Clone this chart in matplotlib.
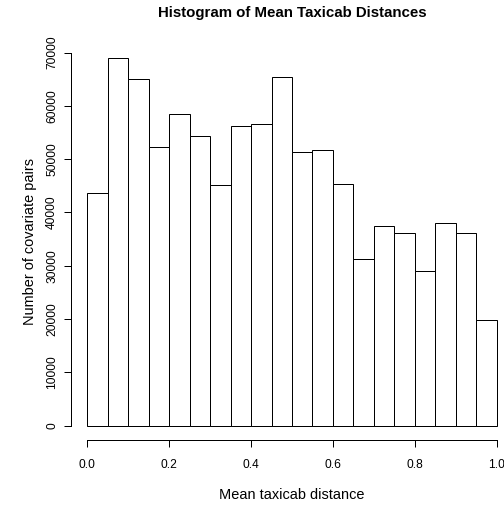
import numpy as np
import matplotlib
matplotlib.use('Agg')
import matplotlib.pyplot as plt

# bin edges and counts
bin_edges = np.round(np.arange(0, 1.0001, 0.05), 2)
counts = [43750, 68940, 65100, 52320, 58410, 54330, 45120, 56210, 56650, 65370,
          51270, 51700, 45370, 31270, 37410, 36100, 29080, 38040, 36160, 19900]
xticks = [0.0, 0.2, 0.4, 0.6, 0.8, 1.0]
yticks = [0, 10000, 20000, 30000, 40000, 50000, 60000, 70000]

plt.rcParams['font.family'] = ['Liberation Sans', 'DejaVu Sans']

fig = plt.figure(figsize=(504 / 72, 505 / 72), dpi=72)
# plot region runs past the right edge of the picture, like the original
ax = fig.add_axes([71 / 504, 64.7 / 505, 442 / 504, 396.7 / 505])

ax.bar(bin_edges[:-1], counts, width=0.05, align='edge',
       facecolor='white', edgecolor='black', linewidth=1)

ymax = max(counts)
ax.set_xlim(-0.04, 1.04)
ax.set_ylim(-0.04 * ymax, 1.04 * ymax)

for s in ['top', 'right']:
    ax.spines[s].set_visible(False)
ax.spines['left'].set_bounds(0, 70000)
ax.spines['bottom'].set_bounds(0, 1.0)
ax.spines['left'].set_linewidth(1)
ax.spines['bottom'].set_linewidth(1)

ax.set_xticks(xticks)
ax.set_xticklabels(['%.1f' % v for v in xticks])
ax.set_yticks(yticks)
ax.set_yticklabels([str(v) for v in yticks], rotation=90, va='center')
ax.tick_params(direction='out', length=7, width=1, labelsize=12, colors='black')
ax.tick_params(axis='x', pad=12)
ax.tick_params(axis='y', pad=6)

ax.set_xlabel('Mean taxicab distance', fontsize=14.5, labelpad=17)
ax.set_ylabel('Number of covariate pairs', fontsize=14.5, labelpad=9)
fig.text(292 / 504, 1 - 13 / 505, 'Histogram of Mean Taxicab Distances',
         ha='center', va='center', fontsize=15, fontweight='bold')

fig.savefig('out.png', dpi=72)
